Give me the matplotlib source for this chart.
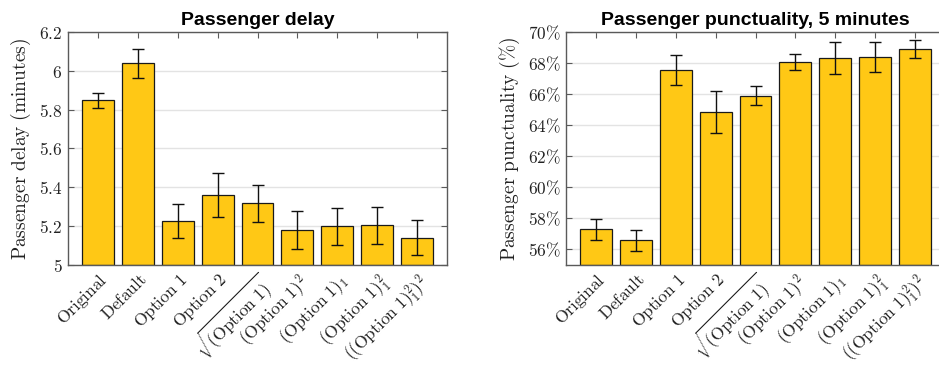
import matplotlib
matplotlib.use("Agg")
import matplotlib.pyplot as plt
import matplotlib.transforms as mtransforms
import numpy as np

plt.rcParams["mathtext.fontset"] = "cm"

categories = [
    r"$\mathrm{Original}$",
    r"$\mathrm{Default}$",
    r"$\mathrm{Option\ 1}$",
    r"$\mathrm{Option\ 2}$",
    r"$\sqrt{(\mathrm{Option\ 1})}$",
    r"$(\mathrm{Option\ 1})^2$",
    r"$(\mathrm{Option\ 1})_1$",
    r"$(\mathrm{Option\ 1})_1^2$",
    r"$((\mathrm{Option\ 1})_1^2)^2$",
]

delay_mean = [5.850, 6.040, 5.228, 5.362, 5.318, 5.179, 5.199, 5.204, 5.141]
delay_low = [5.810, 5.963, 5.141, 5.249, 5.221, 5.081, 5.103, 5.110, 5.052]
delay_high = [5.888, 6.114, 5.314, 5.474, 5.410, 5.278, 5.295, 5.300, 5.230]

punct_mean = [57.29, 56.58, 67.55, 64.84, 65.91, 68.06, 68.32, 68.41, 68.90]
punct_low = [56.62, 55.91, 66.58, 63.51, 65.29, 67.55, 67.31, 67.44, 68.34]
punct_high = [57.98, 57.25, 68.52, 66.19, 66.54, 68.58, 69.33, 69.35, 69.46]

delay_ticks = [5.0, 5.2, 5.4, 5.6, 5.8, 6.0, 6.2]
delay_ticklabels = ["5", "5.2", "5.4", "5.6", "5.8", "6", "6.2"]
punct_ticks = [56, 58, 60, 62, 64, 66, 68, 70]

BAR = "#FFC815"
SPINE = "#5a5a5a"
W, H = 939, 365

fig = plt.figure(figsize=(W / 100, H / 100), dpi=100)
ax1 = fig.add_axes([68 / W, 100 / H, 379 / W, 233 / H])
ax2 = fig.add_axes([566 / W, 100 / H, 379 / W, 233 / H])

# nudge the slanted category labels up and to the right
label_shift = mtransforms.ScaledTranslation(7 / 100, 6 / 100, fig.dpi_scale_trans)


def draw(ax, mean, low, high, ylim, yticks, yticklabels, ylabel, title):
    x = np.arange(1, len(mean) + 1)
    mean = np.asarray(mean)
    err = np.vstack([mean - np.asarray(low), np.asarray(high) - mean])
    base = ylim[0]
    ax.bar(x, mean - base, bottom=base, width=0.8, color=BAR,
           edgecolor="#1a1a1a", linewidth=0.9, zorder=2)
    ax.errorbar(x, mean, yerr=err, fmt="none", ecolor="#111111",
                elinewidth=1.0, capsize=4.5, capthick=1.0, zorder=3)
    ax.set_xlim(0.25, 9.75)
    ax.set_ylim(*ylim)
    ax.set_yticks(yticks)
    ax.set_yticklabels(yticklabels, fontsize=12.5)
    ax.set_xticks(x)
    ax.set_xticklabels(categories, rotation=45, ha="right",
                       rotation_mode="anchor", fontsize=12.5)
    for lab in ax.get_xticklabels():
        lab.set_transform(lab.get_transform() + label_shift)
    ax.yaxis.grid(True, color="#e3e3e3", linewidth=1.0, zorder=0)
    ax.set_axisbelow(True)
    ax.tick_params(direction="in", top=True, right=True, length=4,
                   width=0.8, color=SPINE, pad=4, labelcolor="#222222")
    for s in ax.spines.values():
        s.set_color(SPINE)
        s.set_linewidth(1.0)
    ax.set_ylabel(ylabel, fontsize=14, color="#222222", labelpad=4)
    ax.set_title(title, fontsize=14, fontweight="bold",
                 family="Liberation Sans", pad=5)


draw(ax1, delay_mean, delay_low, delay_high, (5.0, 6.2), delay_ticks,
     [f"${t}$" for t in delay_ticklabels],
     r"$\mathrm{Passenger\ delay\ (minutes)}$", "Passenger delay")
draw(ax2, punct_mean, punct_low, punct_high, (55, 70), punct_ticks,
     [rf"${t}\%$" for t in punct_ticks],
     r"$\mathrm{Passenger\ punctuality\ (\%)}$",
     "Passenger punctuality, 5 minutes")

fig.savefig("out.png", dpi=100)
